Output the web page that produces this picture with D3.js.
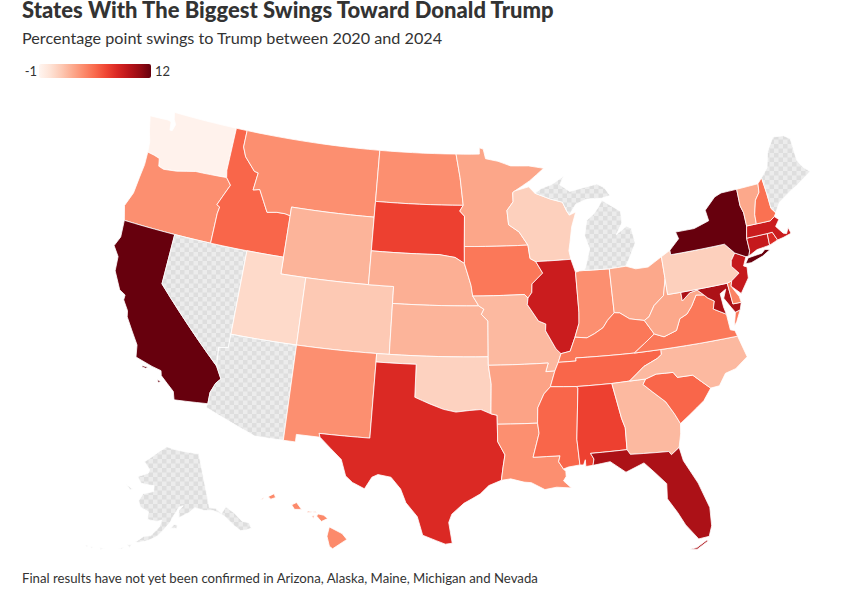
<!DOCTYPE html>
<html>
<head>
<meta charset="utf-8">
<script src="https://cdn.jsdelivr.net/npm/d3@7"></script>
<style>
  body { margin: 0; background: #fff; }
  text { font-family: Lato, "Noto Sans", sans-serif; fill: #333; }
</style>
</head>
<body>
<svg id="canvas" width="865" height="604"></svg>
<script>
let width = 865
let height = 604

let title = "States With The Biggest Swings Toward Donald Trump"
let subtitle = "Percentage point swings to Trump between 2020 and 2024"
let footnote = "Final results have not yet been confirmed in Arizona, Alaska, Maine, Michigan and Nevada"

let stateCodes = ["WA","OR","CA","NV","ID","MT","WY","UT","AZ","CO","NM","ND","SD","NE","KS","OK","TX","MN","IA","MO","AR","LA","WI","IL","IN","MI","OH","KY","TN","MS","AL","GA","FL","SC","NC","VA","WV","MD","DE","PA","NJ","NY","CT","RI","MA","VT","NH","ME","AK","HI"]
// null = not yet called, drawn with the checker pattern
let swings = [-0.8,4,12,null,5.6,4,2.5,0.8,null,1.6,4,4,7,2.7,2.5,1.2,8,3.1,4.9,2.3,3.2,4,1.3,8.8,4,null,3,4.9,5.6,5.6,7,2.3,10,5.6,2.3,4.9,3,10,4.5,1.3,9,12,9,8,8.8,3,5.2,null,null,4.2]
let legendDomain = [-1, 12]

// outlines as lon/lat rings
let outlines = {
  WA: [[[-122.75,49],[-117.03,49],[-117.04,46.42],[-116.92,45.995],[-119,45.93],[-119.6,45.92],[-121.2,45.65],[-122.3,45.55],[-122.76,45.65],[-122.9,46.1],[-123.4,46.2],[-124,46.27],[-124.1,46.9],[-124.4,47.5],[-124.73,48.38],[-123.1,48.45],[-122.8,48.4],[-122.7,47.9],[-122.5,47.9],[-122.35,48.3],[-122.6,48.6]]],
  OR: [[[-124,46.27],[-123.4,46.2],[-122.9,46.1],[-122.76,45.65],[-122.3,45.55],[-121.2,45.65],[-119.6,45.92],[-119,45.93],[-116.92,45.995],[-116.46,45.6],[-116.85,44.95],[-117.22,44.3],[-116.95,44.2],[-117.03,43.8],[-117.03,42],[-120,42],[-124.21,42],[-124.55,42.84],[-124.15,43.7],[-124.05,44.7],[-123.95,45.5]]],
  CA: [[[-124.21,42],[-120,42],[-120,39],[-114.63,35],[-114.14,34.3],[-114.45,34],[-114.72,33.4],[-114.72,32.72],[-117.12,32.53],[-117.3,33],[-118.4,33.75],[-118.5,34.03],[-119.2,34.15],[-120.5,34.45],[-120.65,35.15],[-121.9,36.6],[-122,36.95],[-122.5,37.5],[-122.5,37.8],[-123,38],[-123.75,39],[-123.85,39.85],[-124.4,40.4],[-124.1,41]],
       [[-119.9,34.05],[-119.5,34.05],[-119.6,33.95],[-119.9,33.97]],[[-118.6,33.48],[-118.35,33.4],[-118.5,33.3]]],
  NV: [[[-120,42],[-117.03,42],[-114.04,42],[-114.04,36.2],[-114.74,36.1],[-114.63,35],[-120,39]]],
  ID: [[[-117.03,49],[-116.05,49],[-116.05,48],[-115.7,47.45],[-114.7,46.7],[-114.35,46.65],[-114.5,45.6],[-113.95,45.7],[-113.45,45.05],[-113,44.45],[-112.2,44.55],[-111.5,44.55],[-111.05,44.48],[-111.05,42],[-114.04,42],[-117.03,42],[-117.03,43.8],[-116.95,44.2],[-117.22,44.3],[-116.85,44.95],[-116.46,45.6],[-116.92,45.995],[-117.04,46.42]]],
  MT: [[[-116.05,49],[-104.05,49],[-104.05,45.94],[-104.05,45],[-111.05,45],[-111.05,44.48],[-111.5,44.55],[-112.2,44.55],[-113,44.45],[-113.45,45.05],[-113.95,45.7],[-114.5,45.6],[-114.35,46.65],[-114.7,46.7],[-115.7,47.45],[-116.05,48]]],
  WY: [[[-111.05,45],[-104.05,45],[-104.05,43],[-104.05,41],[-111.05,41],[-111.05,42]]],
  UT: [[[-114.04,42],[-111.05,42],[-111.05,41],[-109.05,41],[-109.05,37],[-114.04,37]]],
  AZ: [[[-114.04,37],[-109.05,37],[-109.05,31.33],[-111.07,31.33],[-114.81,32.5],[-114.72,32.72],[-114.72,33.4],[-114.45,34],[-114.14,34.3],[-114.63,35],[-114.74,36.1],[-114.04,36.2]]],
  CO: [[[-109.05,41],[-104.05,41],[-102.05,41],[-102.05,40],[-102.05,37],[-103,37],[-109.05,37]]],
  NM: [[[-109.05,37],[-103,37],[-103,36.5],[-103.04,32],[-106.62,32],[-106.53,31.78],[-108.2,31.78],[-108.2,31.33],[-109.05,31.33]]],
  ND: [[[-104.05,49],[-97.23,49],[-96.85,47.6],[-96.56,45.94],[-104.05,45.94]]],
  SD: [[[-104.05,45.94],[-96.56,45.94],[-96.85,45.6],[-96.45,45.3],[-96.45,43.5],[-96.44,42.5],[-97.2,42.85],[-98.5,43],[-104.05,43],[-104.05,45]]],
  NE: [[[-104.05,43],[-98.5,43],[-97.2,42.85],[-96.44,42.5],[-96.1,41.7],[-95.9,41.2],[-95.77,40.58],[-95.3,40],[-102.05,40],[-102.05,41],[-104.05,41]]],
  KS: [[[-102.05,40],[-95.3,40],[-94.9,39.8],[-95.1,39.5],[-94.6,39.1],[-94.62,37],[-102.05,37]]],
  OK: [[[-103,37],[-102.05,37],[-94.62,37],[-94.62,36.5],[-94.43,35.4],[-94.48,33.64],[-95.2,33.9],[-96,33.85],[-97,33.75],[-97.9,33.9],[-98.9,34.2],[-100,34.56],[-100,36.5],[-103,36.5]]],
  TX: [[[-103,36.5],[-100,36.5],[-100,34.56],[-98.9,34.2],[-97.9,33.9],[-97,33.75],[-96,33.85],[-95.2,33.9],[-94.48,33.64],[-94.04,33.55],[-94.04,33.02],[-94.04,32],[-93.55,31.2],[-93.7,30.5],[-93.84,29.7],[-94.7,29.4],[-95.3,28.9],[-96.4,28.35],[-97.2,27.7],[-97.4,27.2],[-97.15,25.96],[-97.6,25.9],[-98.2,26.1],[-99.1,26.4],[-99.5,27.5],[-100.3,28.3],[-100.7,29.1],[-101.4,29.77],[-102.3,29.88],[-102.7,29.7],[-103.15,28.98],[-104,29.3],[-104.5,29.65],[-104.9,30.6],[-106.53,31.78],[-106.62,32],[-103.04,32]]],
  MN: [[[-97.23,49],[-95.15,49],[-95.15,49.38],[-94.8,49.3],[-94.6,48.72],[-93.5,48.55],[-92.4,48.25],[-90.8,48.2],[-89.5,48],[-90.8,47.3],[-92.1,46.75],[-92.3,46.65],[-92.3,46.1],[-92.85,45.6],[-92.75,44.75],[-91.9,44.3],[-91.22,43.5],[-96.45,43.5],[-96.45,45.3],[-96.85,45.6],[-96.56,45.94],[-96.85,47.6]]],
  IA: [[[-96.45,43.5],[-91.22,43.5],[-91.1,42.7],[-90.65,42.5],[-90.15,41.8],[-91.05,41.2],[-91.1,40.7],[-91.42,40.38],[-91.7,40.6],[-95.77,40.58],[-95.9,41.2],[-96.1,41.7],[-96.44,42.5]]],
  MO: [[[-95.77,40.58],[-91.7,40.6],[-91.42,40.38],[-91.5,40],[-90.7,39],[-90.15,38.8],[-90.2,38.4],[-89.5,37.3],[-89.15,37],[-89.4,36.5],[-89.7,36],[-90.37,36],[-90.15,36.5],[-94.62,36.5],[-94.62,37],[-94.6,39.1],[-95.1,39.5],[-94.9,39.8],[-95.3,40]]],
  AR: [[[-94.62,36.5],[-90.15,36.5],[-90.37,36],[-89.7,36],[-90.1,35.1],[-90.6,34.7],[-91.1,33.9],[-91.17,33],[-94.04,33.02],[-94.04,33.55],[-94.48,33.64],[-94.43,35.4]]],
  LA: [[[-94.04,33.02],[-91.17,33],[-91.1,32.4],[-91.6,31],[-89.73,31],[-89.85,30.65],[-89.55,30.2],[-89.4,30.05],[-89.4,29.75],[-89.6,29.5],[-89.1,29.05],[-90.1,29.15],[-90.9,29.05],[-91.8,29.5],[-92.3,29.55],[-93.2,29.77],[-93.84,29.7],[-93.7,30.5],[-93.55,31.2],[-94.04,32]]],
  WI: [[[-92.1,46.75],[-90.9,46.95],[-90.4,46.55],[-89.1,46.14],[-88.1,45.9],[-87.8,45.35],[-87.6,45.1],[-87.05,45.25],[-87.5,44.4],[-87.75,43.5],[-87.9,43],[-87.8,42.49],[-90.65,42.5],[-91.1,42.7],[-91.22,43.5],[-91.9,44.3],[-92.75,44.75],[-92.85,45.6],[-92.3,46.1],[-92.3,46.65]]],
  IL: [[[-90.65,42.5],[-87.8,42.49],[-87.52,41.7],[-87.53,39.35],[-87.6,38.7],[-88,37.9],[-88.45,37.1],[-89.15,37],[-89.5,37.3],[-90.2,38.4],[-90.15,38.8],[-90.7,39],[-91.5,40],[-91.42,40.38],[-91.1,40.7],[-91.05,41.2],[-90.15,41.8]]],
  IN: [[[-87.52,41.7],[-87.2,41.76],[-86.8,41.76],[-84.8,41.7],[-84.82,39.1],[-85.4,38.7],[-85.8,38.3],[-86.5,38],[-87.1,37.8],[-88,37.9],[-87.6,38.7],[-87.53,39.35]]],
  MI: [[[-86.8,41.76],[-84.8,41.7],[-83.45,41.73],[-83.15,42.1],[-82.45,43],[-82.6,43.9],[-82.95,44.07],[-83.9,43.65],[-83.3,44.3],[-83.3,45],[-84.75,45.78],[-85.1,45.4],[-85.6,45],[-86.2,44.7],[-86.5,43.8],[-86.2,43],[-86.6,42.1]],
       [[-90.4,46.55],[-89.1,46.14],[-88.1,45.9],[-87.8,45.35],[-87.6,45.1],[-87,45.7],[-86,45.95],[-84.75,45.9],[-84,46],[-84.4,46.5],[-85,46.77],[-86,46.67],[-87.4,46.5],[-88.2,46.95],[-87.8,47.45],[-88.9,47],[-89.8,46.82]]],
  OH: [[[-84.8,41.7],[-83.45,41.73],[-82.7,41.5],[-81.7,41.5],[-80.52,41.98],[-80.52,40.64],[-80.85,39.7],[-81.7,39.2],[-82.2,38.6],[-82.6,38.42],[-83.7,38.63],[-84.4,39.05],[-84.82,39.1]]],
  KY: [[[-84.82,39.1],[-84.4,39.05],[-83.7,38.63],[-82.6,38.42],[-82,37.55],[-83.68,36.6],[-88.07,36.68],[-88.07,36.5],[-89.4,36.5],[-89.15,37],[-88.45,37.1],[-88,37.9],[-87.1,37.8],[-86.5,38],[-85.8,38.3],[-85.4,38.7]]],
  TN: [[[-89.7,36],[-89.4,36.5],[-88.07,36.5],[-88.07,36.68],[-83.68,36.6],[-81.68,36.59],[-81.7,36.3],[-82.05,36.1],[-83.1,35.75],[-84.3,35],[-85.6,34.98],[-88.2,35],[-90.1,35.1]]],
  MS: [[[-90.1,35.1],[-88.2,35],[-88.1,34.9],[-88.47,31.9],[-88.4,30.37],[-89.2,30.3],[-89.55,30.2],[-89.85,30.65],[-89.73,31],[-91.6,31],[-91.1,32.4],[-91.17,33],[-91.1,33.9],[-90.6,34.7]]],
  AL: [[[-88.2,35],[-85.6,34.98],[-85.18,32.87],[-85,32.3],[-85.05,31],[-87.6,31],[-87.4,30.65],[-87.5,30.28],[-88,30.25],[-88,30.65],[-88.15,30.35],[-88.4,30.37],[-88.47,31.9],[-88.1,34.9]]],
  GA: [[[-85.6,34.98],[-84.3,35],[-83.1,35],[-83.35,34.7],[-82.75,34.2],[-81.9,33.5],[-81.4,32.7],[-81.1,32.1],[-81.2,31.5],[-81.45,30.72],[-82.05,30.36],[-82.2,30.57],[-84.86,30.7],[-85.05,31],[-85,32.3],[-85.18,32.87]]],
  FL: [[[-87.6,31],[-85.05,31],[-84.86,30.7],[-82.2,30.57],[-82.05,30.36],[-81.45,30.72],[-81.3,29.9],[-80.55,28.45],[-80.05,26.9],[-80.13,25.8],[-80.4,25.2],[-81.1,25.15],[-81.8,26.1],[-82.2,26.9],[-82.75,27.8],[-82.65,28.7],[-83.4,29.5],[-84,30.1],[-85.3,29.68],[-86.3,30.4],[-87.5,30.28],[-87.4,30.65]],
       [[-81.8,24.6],[-81.3,24.65],[-80.6,25],[-80.5,24.95],[-81.3,24.55]]],
  SC: [[[-83.1,35],[-82.3,35.2],[-81.05,35.15],[-80.8,34.82],[-79.67,34.8],[-78.55,33.86],[-79.2,33.2],[-80.4,32.5],[-81.1,32.1],[-81.4,32.7],[-81.9,33.5],[-82.75,34.2],[-83.35,34.7]]],
  NC: [[[-84.3,35],[-83.1,35.75],[-82.05,36.1],[-81.7,36.3],[-81.68,36.59],[-75.87,36.55],[-75.5,35.25],[-76.5,34.7],[-77.3,34.55],[-77.9,33.9],[-78.55,33.86],[-79.67,34.8],[-80.8,34.82],[-81.05,35.15],[-82.3,35.2],[-83.1,35]]],
  VA: [[[-83.68,36.6],[-82,37.55],[-81.3,37.3],[-80.3,37.55],[-79.9,38.2],[-79.3,38.4],[-78.85,38.8],[-78.35,39.4],[-77.75,39.32],[-77.5,39.1],[-77.05,38.85],[-77.25,38.4],[-76.35,37.95],[-76.3,37],[-75.98,36.9],[-75.87,36.55],[-81.68,36.59]],
       [[-75.95,37.15],[-75.65,37.95],[-75.25,38.03],[-75.7,37.4]]],
  WV: [[[-82.6,38.42],[-82.2,38.6],[-81.7,39.2],[-80.85,39.7],[-80.52,40.64],[-80.52,39.72],[-79.48,39.72],[-79.48,39.2],[-78.8,39.6],[-78.2,39.68],[-77.75,39.32],[-78.35,39.4],[-78.85,38.8],[-79.3,38.4],[-79.9,38.2],[-80.3,37.55],[-81.3,37.3],[-82,37.55]]],
  MD: [[[-79.48,39.72],[-75.79,39.72],[-75.7,38.46],[-75.05,38.45],[-75.25,38.03],[-75.65,37.95],[-75.9,38.3],[-76.3,38.9],[-76,39.4],[-76.5,39.2],[-76.45,38.4],[-76.35,37.95],[-77.25,38.4],[-77.05,38.85],[-77.5,39.1],[-77.75,39.32],[-78.2,39.68],[-78.8,39.6],[-79.48,39.2]]],
  DE: [[[-75.79,39.72],[-75.41,39.8],[-75.55,39.5],[-75.1,38.8],[-75.05,38.45],[-75.7,38.46]]],
  PA: [[[-80.52,41.98],[-79.76,42.27],[-79.76,42],[-75.35,42],[-74.7,41.36],[-75.1,40.97],[-75.2,40.65],[-74.72,40.15],[-75.41,39.8],[-75.79,39.72],[-80.52,39.72],[-80.52,40.64]]],
  NJ: [[[-74.7,41.36],[-73.9,41],[-74.25,40.5],[-74,40.4],[-74.1,39.75],[-74.9,38.95],[-75.55,39.5],[-75.41,39.8],[-74.72,40.15],[-75.2,40.65],[-75.1,40.97]]],
  NY: [[[-79.76,42],[-79.76,42.27],[-78.9,42.85],[-79.05,43.27],[-77.5,43.27],[-76.2,43.55],[-76.3,44.2],[-75.3,44.85],[-74.7,45],[-73.35,45],[-73.4,44],[-73.25,43.55],[-73.27,42.75],[-73.5,42.05],[-73.5,41.3],[-73.65,41],[-73.9,41],[-74.7,41.36],[-75.35,42]],
       [[-74.05,40.6],[-73.75,40.9],[-72.6,40.98],[-72.3,41.15],[-71.9,41.07],[-72.6,40.8],[-73.6,40.58]]],
  CT: [[[-73.5,42.05],[-71.8,42.02],[-71.85,41.32],[-72.9,41.25],[-73.65,41],[-73.5,41.3]]],
  RI: [[[-71.8,42.02],[-71.38,42.02],[-71.13,41.5],[-71.85,41.32]]],
  MA: [[[-73.5,42.05],[-73.27,42.75],[-72.46,42.73],[-71.3,42.7],[-70.9,42.88],[-70.6,42.65],[-71,42.3],[-70.55,41.8],[-70.3,41.72],[-70.05,42.05],[-69.95,41.67],[-70.65,41.55],[-71.13,41.5],[-71.38,42.02],[-71.8,42.02]]],
  VT: [[[-73.35,45],[-71.5,45.01],[-71.6,44.5],[-72.05,44.1],[-72.4,43.3],[-72.46,42.73],[-73.27,42.75],[-73.25,43.55],[-73.4,44]]],
  NH: [[[-71.5,45.01],[-71.08,45.3],[-71,44.3],[-70.98,43.4],[-70.7,43.07],[-70.9,42.88],[-71.3,42.7],[-72.46,42.73],[-72.4,43.3],[-72.05,44.1],[-71.6,44.5]]],
  ME: [[[-71.08,45.3],[-70.4,45.8],[-70,46.7],[-69.2,47.45],[-68.3,47.35],[-67.8,47.07],[-67.8,45.7],[-67.45,45.2],[-67,44.85],[-68.5,44.25],[-69,44.1],[-70.2,43.6],[-70.7,43.07],[-70.98,43.4],[-71,44.3]]],
  AK: [[[-141,69.65],[-141,60.3],[-139,60],[-137.5,58.9],[-135.5,59.8],[-133.4,58.4],[-131.8,56.6],[-130,56],[-130,55],[-131.5,55],[-133.2,55.2],[-134.5,56.2],[-135.8,57.5],[-136.6,58.2],[-138,59],[-140,59.7],[-143,60],[-146,60.7],[-148,60],[-149.5,59.7],[-151.8,59.2],[-151.5,60.5],[-150,61.2],[-151.5,61],[-153.5,59.5],[-154.5,58.5],[-156.5,57.2],[-158.5,56],[-161,55.2],[-163.5,54.7],[-164.8,54.6],[-162.5,55.8],[-160.5,56],[-158,57.6],[-157.3,58.8],[-159,58.5],[-162,58.7],[-162,60],[-165,60.6],[-166,61.6],[-164.8,62.9],[-161,63.5],[-161,64.5],[-163,64.5],[-166.3,64.6],[-168.1,65.6],[-164,66.5],[-163.7,67.1],[-166.5,68.3],[-163,69.5],[-160,70.5],[-156.6,71.3],[-152,70.8],[-146,70.2]],
       [[-154.5,57.4],[-152.5,57.4],[-152.2,58],[-153.3,58.1]],
       [[-171.7,63.8],[-168.8,63.3],[-169.8,63.1]],
       [[-166.9,53.9],[-165.7,54.1],[-166.2,53.5]],
       [[-169.1,52.9],[-167.8,53.4],[-168.2,53]],
       [[-174.2,52.3],[-172.8,52.35],[-174,52.05]],
       [[-176.9,51.95],[-176,52.1],[-176.2,51.75]],
       [[-178.2,51.9],[-177.5,51.95],[-177.7,51.7]]],
  HI: [[[-155.9,20.25],[-155.1,19.85],[-154.8,19.5],[-155.7,18.95],[-155.9,19.1],[-156.05,19.7]],
       [[-156.7,20.9],[-156.6,21.03],[-156.25,20.95],[-156,20.75],[-156.4,20.58]],
       [[-157.3,21.1],[-156.75,21.17],[-156.72,21.1],[-157.25,21.2]],
       [[-157,20.9],[-156.85,20.92],[-156.9,20.75]],
       [[-158.28,21.57],[-157.97,21.71],[-157.65,21.3],[-158.1,21.3]],
       [[-159.78,22.05],[-159.4,22.23],[-159.3,22],[-159.6,21.9]],
       [[-160.25,21.85],[-160.05,22.02],[-160.1,21.9]]]
}

let canvas = d3.select("#canvas")

// straight runs along parallels need extra points or they bow on the sphere
let densify = (ring) => {
    let out = []
    ring.forEach((p, i) => {
        let q = ring[(i + 1) % ring.length]
        let steps = Math.max(Math.ceil(Math.abs(q[0] - p[0])), 1)
        for (let s = 0; s < steps; s++) {
            out.push([p[0] + (q[0] - p[0]) * s / steps, p[1] + (q[1] - p[1]) * s / steps])
        }
    })
    out.push(out[0])
    return out
}

let toFeature = (code, i) => {
    let polygons = outlines[code].map(ring => {
        let r = densify(ring)
        if (d3.geoArea({type: "Polygon", coordinates: [r]}) > 2 * Math.PI) r.reverse()
        return [r]
    })
    return {type: "Feature", id: code, swing: swings[i], geometry: {type: "MultiPolygon", coordinates: polygons}}
}

let features = stateCodes.map(toFeature)

let projection = d3.geoAlbersUsa().scale(965).translate([462, 328])
let path = d3.geoPath(projection)

let colorScale = d3.scaleSequential(d3.interpolateReds).domain(legendDomain)

let defs = canvas.append("defs")

let checker = defs.append("pattern")
    .attr("id", "pending")
    .attr("patternUnits", "userSpaceOnUse")
    .attr("width", 9)
    .attr("height", 9)
checker.append("rect").attr("width", 9).attr("height", 9).attr("fill", "#ececec")
checker.append("rect").attr("width", 4.5).attr("height", 4.5).attr("fill", "#dedede")
checker.append("rect").attr("x", 4.5).attr("y", 4.5).attr("width", 4.5).attr("height", 4.5).attr("fill", "#dedede")

let gradient = defs.append("linearGradient").attr("id", "legend-gradient")
d3.range(0, 1.01, 0.1).forEach(t => {
    gradient.append("stop")
        .attr("offset", t)
        .attr("stop-color", d3.interpolateReds(t))
})

let drawMap = () => {
    canvas.append("g")
        .selectAll("path")
        .data(features)
        .enter()
        .append("path")
        .attr("d", path)
        .attr("fill", d => d.swing === null ? "url(#pending)" : colorScale(d.swing))
        .attr("stroke", "#fff")
        .attr("stroke-width", 0.8)
        .attr("stroke-linejoin", "round")
}

let drawHeader = () => {
    canvas.append("text").attr("x", 22).attr("y", 18)
        .style("font-size", "22px").style("font-weight", 900).text(title)
    canvas.append("text").attr("x", 22).attr("y", 44)
        .style("font-size", "16.2px").text(subtitle)
    canvas.append("text").attr("x", 22).attr("y", 583)
        .style("font-size", "13.2px").text(footnote)
}

let drawLegend = () => {
    let legendScale = d3.scaleLinear().domain(legendDomain).range([39, 151])
    canvas.append("rect")
        .attr("x", legendScale(-1))
        .attr("y", 64)
        .attr("width", legendScale(12) - legendScale(-1))
        .attr("height", 14)
        .attr("rx", 2)
        .attr("fill", "url(#legend-gradient)")
    canvas.append("text").attr("x", legendScale(-1) - 2).attr("y", 76)
        .attr("text-anchor", "end").style("font-size", "13px").text(legendDomain[0])
    canvas.append("text").attr("x", legendScale(12) + 4).attr("y", 76)
        .style("font-size", "13px").text(legendDomain[1])
}

drawMap()
drawHeader()
drawLegend()
</script>
</body>
</html>
